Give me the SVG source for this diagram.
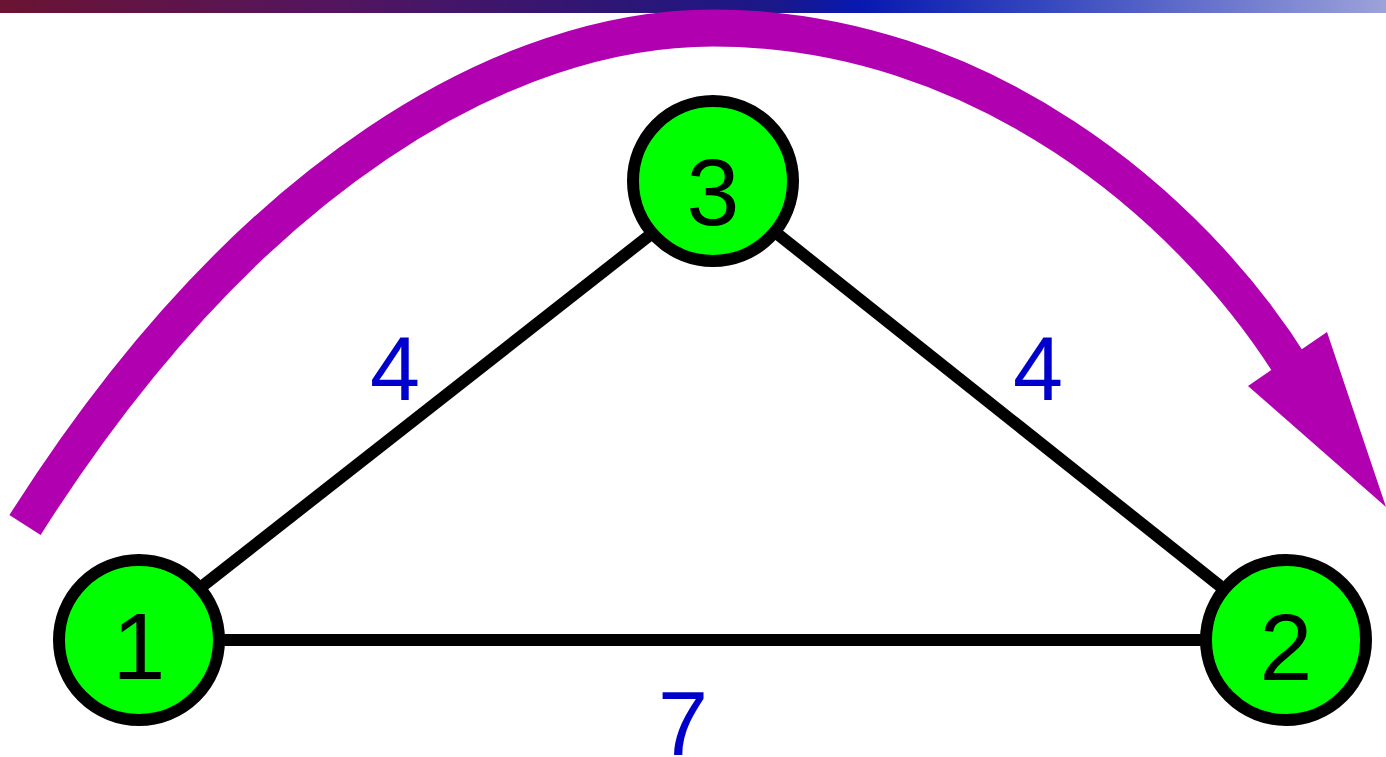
<svg xmlns="http://www.w3.org/2000/svg" width="1386" height="757" viewBox="0 0 1386 757">
<defs>
<linearGradient id="bar" x1="0" y1="0" x2="1" y2="0">
<stop offset="0" stop-color="#6B1332"/>
<stop offset="0.25" stop-color="#521560"/>
<stop offset="0.45" stop-color="#2C1676"/>
<stop offset="0.56" stop-color="#1A188A"/>
<stop offset="0.62" stop-color="#0818B0"/>
<stop offset="0.75" stop-color="#3446BE"/>
<stop offset="1" stop-color="#9CA2DA"/>
</linearGradient>
<style>
.edge{stroke:#000;stroke-width:12;fill:none}
.node circle{fill:#00FF00;stroke:#000;stroke-width:12}
.nl{font-family:"Liberation Sans",Arial,sans-serif;font-size:95px;fill:#000;text-anchor:middle}
.wl{font-family:"Liberation Sans",Arial,sans-serif;font-size:90px;fill:#0000CC;text-anchor:middle}
</style>
</defs>
<rect x="0" y="0" width="1386" height="13" fill="url(#bar)"/>
<g id="flow-arrow">
<path d="M25,525 C250,170 510,28 713,28 C980,28 1190,205 1292,368" fill="none" stroke="#B000B0" stroke-width="37"/>
<polygon points="1386,507 1327,332 1248,386" fill="#B000B0"/>
</g>
<g id="connectors">
<line class="edge" x1="200" y1="588" x2="650" y2="235"/>
<line class="edge" x1="775" y1="232" x2="1225" y2="590"/>
<line class="edge" x1="220" y1="640" x2="1210" y2="640"/>
<text class="wl" x="395" y="400">4</text>
<text class="wl" x="1038" y="400">4</text>
<text class="wl" x="683" y="755">7</text>
</g>
<g id="node1" class="node"><circle cx="139" cy="640" r="80"/><text class="nl" x="139" y="679">1</text></g>
<g id="node3" class="node"><circle cx="713" cy="181" r="80"/><text class="nl" x="713" y="225">3</text></g>
<g id="node2" class="node"><circle cx="1286" cy="640" r="80"/><text class="nl" x="1286" y="680">2</text></g>
</svg>
